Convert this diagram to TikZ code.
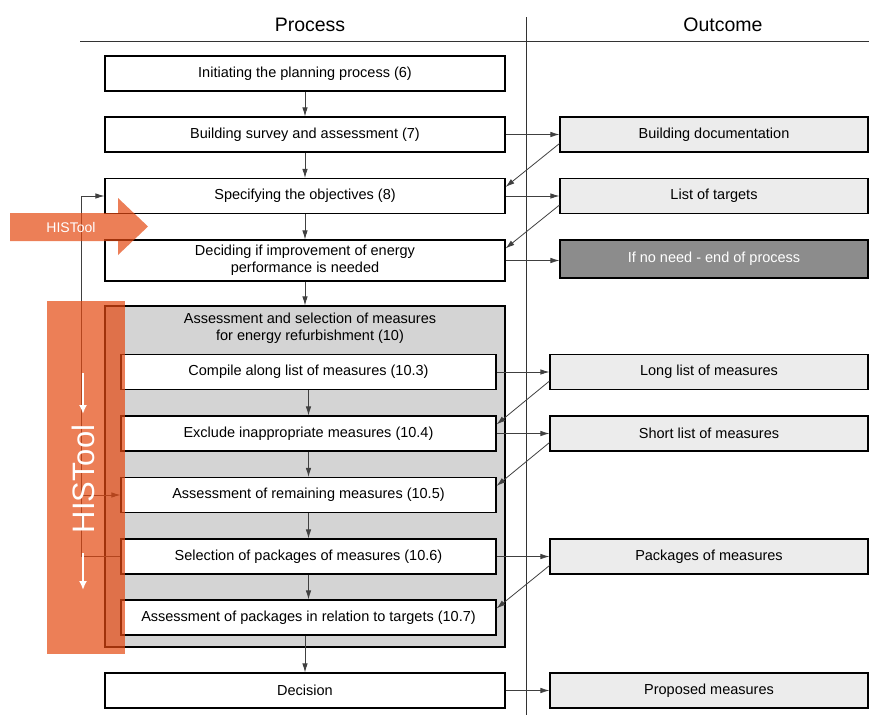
\documentclass[tikz,border=0pt]{standalone}
\usepackage{fontspec}
\setmainfont{Liberation Sans}
\usetikzlibrary{arrows.meta}
\definecolor{historange}{RGB}{228,72,16}
\definecolor{outfill}{RGB}{236,236,236}
\definecolor{endfill}{RGB}{140,140,140}
\definecolor{groupfill}{RGB}{212,212,212}
\begin{document}
\begin{tikzpicture}[x=1pt,y=-1pt,
  procbox/.style={draw, line width=1.1pt, fill=white, minimum width=400pt, minimum height=35pt, inner sep=0pt, align=center, font=\fontsize{14.5}{17}\selectfont},
  subbox/.style={procbox, minimum width=375pt},
  outbox/.style={procbox, fill=outfill, minimum width=308pt},
  arr/.style={-{Latex[length=9pt,width=5.5pt]}, line width=0.8pt, black!75},
  orangepatch/.style={fill=historange, fill opacity=0.7, draw=none},
  whitearr/.style={white, line width=2pt, -{Latex[length=9pt,width=8pt]}}
]
\useasboundingbox (0,0) rectangle (869,715);
% headers
\node[font=\fontsize{19.5}{21}\selectfont] (hproc) at (310,25){Process};
\node[font=\fontsize{19.5}{21}\selectfont] (hout) at (723,25){Outcome};
\draw[line width=1pt, black!80] (80,41) -- (869,41);
\draw[line width=1pt, black!80] (526,17) -- (526,715);
% process column
\node[procbox] (init) at (305,73.5){Initiating the planning process (6)};
\node[procbox] (survey) at (305,134.5){Building survey and assessment (7)};
\node[procbox] (spec) at (305,196){Specifying the objectives (8)};
\node[procbox, minimum height=41pt] (decide) at (305,260.5){Deciding if improvement of energy\\performance is needed};
\node[procbox, fill=groupfill, minimum height=341pt] (asel) at (305,476.5){};
\node[align=center, font=\fontsize{14.5}{17}\selectfont] (aseltitle) at (310,328){Assessment and selection of measures\\for energy refurbishment (10)};
\node[subbox] (compile) at (308.5,372){Compile along list of measures (10.3)};
\node[subbox] (excl) at (308.5,433.5){Exclude inappropriate measures (10.4)};
\node[subbox] (remain) at (308.5,495){Assessment of remaining measures (10.5)};
\node[subbox] (pack) at (308.5,556.5){Selection of packages of measures (10.6)};
\node[subbox] (assp) at (308.5,617.5){Assessment of packages in relation to targets (10.7)};
\node[procbox] (decision) at (305,690.5){Decision};
\draw[arr] (init) -- (survey);
\draw[arr] (survey) -- (spec);
\draw[arr] (spec) -- (decide);
\draw[arr] (decide) -- (asel);
\draw[arr] (compile) -- (excl);
\draw[arr] (excl) -- (remain);
\draw[arr] (remain) -- (pack);
\draw[arr] (pack) -- (assp);
\draw[arr] (assp.south -| asel.south) -- (decision);
% outcome column
\node[outbox] (bdoc) at (714,134.5){Building documentation};
\node[outbox] (targets) at (714,196){List of targets};
\node[outbox, fill=endfill, text=white, minimum height=38pt] (noneed) at (714,259){If no need - end of process};
\node[outbox, minimum width=318pt] (longl) at (709,372){Long list of measures};
\node[outbox, minimum width=318pt] (shortl) at (709,433.5){Short list of measures};
\node[outbox, minimum width=318pt] (packl) at (709,556.5){Packages of measures};
\node[outbox, minimum width=318pt] (propm) at (709,690.5){Proposed measures};
\draw[arr] (survey) -- (bdoc);
\draw[arr] (spec) -- (targets);
\draw[arr] (decide.east) -- (decide.east -| noneed.west);
\draw[arr] (compile) -- (longl);
\draw[arr] (excl) -- (shortl);
\draw[arr] (pack) -- (packl);
\draw[arr] (decision) -- (propm);
\draw[arr] ([yshift=9pt]bdoc.south west) -- ([yshift=-9pt]spec.north east);
\draw[arr] ([yshift=9pt]targets.south west) -- ([yshift=-9pt]decide.north east);
\draw[arr] ([yshift=9pt]longl.south west) -- ([yshift=-9pt]excl.north east);
\draw[arr] ([yshift=9pt]shortl.south west) -- ([yshift=-9pt]remain.north east);
\draw[arr] ([yshift=9pt]packl.south west) -- ([yshift=-9pt]assp.north east);
% feedback loop
\coordinate (fbbot) at (81,556.5);
\coordinate (fbmid) at (81,495);
\draw[arr] (pack.west) -- (fbbot) |- (spec.west);
\draw[arr] (fbmid) -- (remain.west);
% HISTool overlays
\fill[orangepatch] (10,213) -- (118,213) -- (118,198) -- (148,226.5) -- (118,255) -- (118,241) -- (10,241) -- cycle;
\node[white, font=\fontsize{14}{15}\selectfont] (histh) at (71,227){HISTool};
\fill[orangepatch] (47,301) rectangle (125,654);
\node[white, rotate=90, font=\fontsize{31}{32}\selectfont] (histv) at (83,479){HISTool};
\coordinate (wa1) at (83,373);
\coordinate (wa2) at (83,414);
\coordinate (wb1) at (83,553);
\coordinate (wb2) at (83,590);
\draw[whitearr] (wa1) -- (wa2);
\draw[whitearr] (wb1) -- (wb2);
\end{tikzpicture}
\end{document}
